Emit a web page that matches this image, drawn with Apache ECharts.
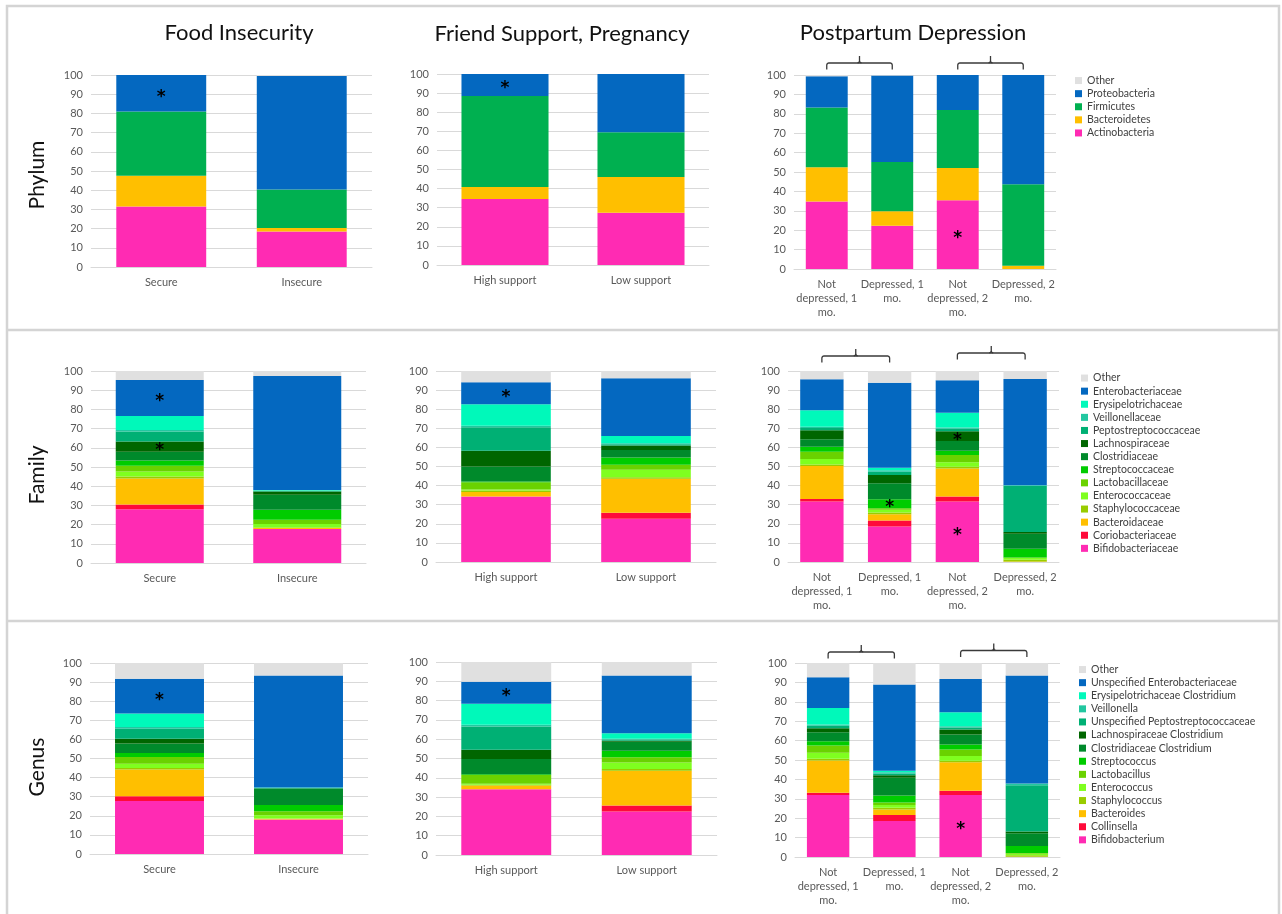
<!DOCTYPE html>
<html>
<head>
<meta charset="utf-8">
<script src="https://cdn.jsdelivr.net/npm/echarts@6/dist/echarts.min.js"></script>
<style>
  html, body { margin: 0; padding: 0; background: #fff; }
  #chart { width: 1282px; height: 914px; }
</style>
</head>
<body>
<div id="chart"></div>
<script>
// ---- Taxa (bottom of stack first, "Other" on top) ----
const phylumNames = ['Actinobacteria', 'Bacteroidetes', 'Firmicutes', 'Proteobacteria', 'Other'];
const familyNames = ['Bifidobacteriaceae', 'Coriobacteriaceae', 'Bacteroidaceae', 'Staphylococcaceae',
  'Enterococcaceae', 'Lactobacillaceae', 'Streptococcaceae', 'Clostridiaceae', 'Lachnospiraceae',
  'Peptostreptococcaceae', 'Veillonellaceae', 'Erysipelotrichaceae', 'Enterobacteriaceae', 'Other'];
const genusNames = ['Bifidobacterium', 'Collinsella', 'Bacteroides', 'Staphylococcus', 'Enterococcus',
  'Lactobacillus', 'Streptococcus', 'Clostridiaceae Clostridium', 'Lachnospiraceae Clostridium',
  'Unspecified Peptostreptococcaceae', 'Veillonella', 'Erysipelotrichaceae Clostridium',
  'Unspecified Enterobacteriaceae', 'Other'];

// ---- Groups (category tick labels) ----
const foodGroups = ['Secure', 'Insecure'];
const supportGroups = ['High support', 'Low support'];
const ppdGroups = ['Not\ndepressed, 1\nmo.', 'Depressed, 1\nmo.', 'Not\ndepressed, 2\nmo.', 'Depressed, 2\nmo.'];

// ---- Relative abundance (%), one row per taxon, one column per group ----
const phylumFood = [
  [31.5, 18.5], [16.0, 1.8], [33.5, 20.0], [19.0, 59.2], [0, 0.5]
];
const phylumSupport = [
  [34.6, 27.4], [6.2, 18.7], [47.7, 23.4], [11.5, 30.5], [0, 0]
];
const phylumPpd = [
  [34.8, 22.3, 35.5, 0], [17.7, 7.5, 16.6, 1.7], [30.7, 25.3, 29.9, 42.0],
  [16.1, 44.7, 18.0, 56.3], [0.7, 0.2, 0, 0]
];
const familyFood = [
  [28.0, 17.7], [2.5, 0], [13.5, 0.5], [1.0, 0.3], [2.7, 1.8], [2.9, 2.2], [2.8, 5.2],
  [4.6, 7.8], [5.3, 1.8], [5.2, 0.3], [0.8, 0.2], [7.3, 0.2], [18.7, 59.4], [4.7, 2.6]
];
const familySupport = [
  [34.3, 22.6], [0, 3.2], [2.3, 17.8], [0.9, 0.8], [0.5, 3.9], [3.8, 2.6], [0.4, 3.8],
  [7.8, 4.0], [8.2, 2.3], [12.3, 0.7], [0.8, 0.5], [11.3, 3.8], [11.5, 30.2], [5.9, 3.8]
];
const familyPpd = [
  [31.7, 18.6, 31.7, 0], [1.3, 3.1, 2.6, 0], [17.3, 3.3, 14.7, 0.2], [0.8, 0.9, 0.9, 1.0],
  [2.8, 1.4, 2.3, 0.9], [3.8, 0.9, 3.8, 0.3], [2.6, 4.7, 2.3, 4.6], [4.0, 8.3, 5.0, 7.8],
  [4.7, 4.4, 5.2, 0.9], [1.2, 1.7, 1.2, 24.1], [0.6, 0.8, 0.7, 0.3], [8.7, 1.3, 7.7, 0.1],
  [16.2, 44.5, 17.0, 55.6], [4.3, 6.1, 4.9, 4.2]
];
const genusFood = [
  [27.7, 18.0], [2.5, 0], [14.0, 0.4], [0.8, 0.2], [2.3, 1.7], [3.5, 2.1], [2.1, 3.2],
  [4.9, 8.4], [2.6, 0.3], [5.2, 0.2], [0.9, 0.1], [7.0, 0.2], [18.3, 58.7], [8.2, 6.5]
];
const genusSupport = [
  [34.1, 22.5], [0, 3.1], [1.9, 18.0], [0.4, 0.9], [0.5, 3.4], [4.6, 2.8], [0.4, 3.3],
  [7.9, 4.7], [4.7, 0.5], [12.1, 0.6], [0.9, 0.4], [10.9, 2.9], [11.4, 29.9], [10.2, 7.0]
];
const genusPpd = [
  [31.9, 18.5, 31.9, 0], [1.2, 3.1, 2.2, 0], [16.6, 2.9, 14.8, 0.1], [0.9, 0.9, 0.7, 0.8],
  [3.1, 1.4, 2.4, 0.8], [3.8, 1.3, 3.4, 0.3], [2.2, 3.6, 2.6, 3.7], [4.6, 9.1, 5.1, 6.5],
  [2.1, 1.4, 2.6, 1.0], [1.2, 0.7, 1.0, 23.8], [0.7, 0.8, 0.7, 0.9], [8.5, 0.7, 7.2, 0],
  [15.8, 44.5, 17.2, 55.6], [7.4, 11.1, 8.2, 6.5]
];

// ---- Significant differences: [taxon index, group index] ----
const phylumFoodStars = [[3, 0]];
const phylumSupportStars = [[3, 0]];
const phylumPpdStars = [[0, 2]];
const familyFoodStars = [[12, 0], [8, 0]];
const familySupportStars = [[12, 0]];
const familyPpdStars = [[6, 1], [8, 2], [0, 2]];
const genusFoodStars = [[12, 0]];
const genusSupportStars = [[12, 0]];
const genusPpdStars = [[0, 2]];

// ---- Colours ----
const PINK = '#FF2BB3', RED = '#FF0A3A', ORANGE = '#FFBF00', BLUE = '#0468C0', GREY = '#E0E0E0';
const phylumColors = [PINK, ORANGE, '#00B050', BLUE, GREY];
const taxaColors = [PINK, RED, ORANGE, '#99CC00', '#7FFF1F', '#6AD200', '#00CC00', '#008A2B',
  '#006600', '#00B074', '#22C7A0', '#00F9BA', BLUE, GREY];

const FONT = 'Lato';
const AXIS_GREY = '#D9D9D9';
const LABEL_GREY = '#595959';

// ---- Panels: [names, colours, groups, values, stars, grid box] ----
const panels = [
  [phylumNames, phylumColors, foodGroups, phylumFood, phylumFoodStars, [91, 75, 281, 192]],
  [phylumNames, phylumColors, supportGroups, phylumSupport, phylumSupportStars, [437, 74, 272, 191]],
  [phylumNames, phylumColors, ppdGroups, phylumPpd, phylumPpdStars, [794, 75, 262, 194]],
  [familyNames, taxaColors, foodGroups, familyFood, familyFoodStars, [91, 371, 275, 192]],
  [familyNames, taxaColors, supportGroups, familySupport, familySupportStars, [436, 371, 280, 191]],
  [familyNames, taxaColors, ppdGroups, familyPpd, familyPpdStars, [788, 371, 271, 191]],
  [genusNames, taxaColors, foodGroups, genusFood, genusFoodStars, [90, 663, 278, 191]],
  [genusNames, taxaColors, supportGroups, genusSupport, genusSupportStars, [436, 662, 281, 193]],
  [genusNames, taxaColors, ppdGroups, genusPpd, genusPpdStars, [795, 663, 265, 194]]
];

const grids = [], xAxes = [], yAxes = [], series = [];
panels.forEach(([names, colors, groups, values, stars, box], p) => {
  grids.push({ left: box[0], top: box[1], width: box[2], height: box[3] });
  xAxes.push({
    type: 'category', gridIndex: p, data: groups,
    axisLine: { lineStyle: { color: AXIS_GREY, width: 1 } },
    axisTick: { show: false },
    axisLabel: { fontFamily: FONT, fontSize: 11, color: LABEL_GREY, lineHeight: 14, margin: 8, interval: 0 }
  });
  yAxes.push({
    type: 'value', gridIndex: p, min: 0, max: 100, interval: 10,
    axisLine: { show: false }, axisTick: { show: false },
    splitLine: { lineStyle: { color: AXIS_GREY, width: 1 } },
    axisLabel: { fontFamily: FONT, fontSize: 11, color: LABEL_GREY, margin: 8 }
  });
  names.forEach((name, t) => {
    series.push({
      type: 'bar', name, stack: 'panel' + p, xAxisIndex: p, yAxisIndex: p,
      barCategoryGap: '36%',
      itemStyle: { color: colors[t] },
      emphasis: { disabled: true },
      animation: false,
      data: values[t].map((v, g) => {
        const starred = stars.some(s => s[0] === t && s[1] === g);
        if (!starred) return v;
        return {
          value: v,
          label: {
            show: true, position: 'inside', formatter: '*',
            fontFamily: 'DejaVu Sans', fontSize: 17, fontWeight: 'bold', color: '#000',
            offset: [0, 4]
          }
        };
      })
    });
  });
});

// ---- Legends, one per row, "Other" listed first ----
function rowLegend(names, left, top) {
  return {
    orient: 'vertical', left, top, padding: 0, icon: 'rect', itemWidth: 7, itemHeight: 7, itemGap: 0,
    selectedMode: false,
    data: names.slice().reverse(),
    textStyle: { fontFamily: FONT, fontSize: 10.5, color: '#404040', lineHeight: 13.1 }
  };
}

// ---- Frame, column titles and row titles ----
function textEl(text, x, y, size, rotation) {
  return {
    type: 'text', x, y, rotation: rotation || 0,
    style: {
      text, fontFamily: FONT, fontSize: size, fill: '#111',
      align: 'center', verticalAlign: 'middle', textAlign: 'center', textVerticalAlign: 'middle'
    }
  };
}
const frame = [
  { type: 'rect', shape: { x: 7, y: 6, width: 1272, height: 940 },
    style: { fill: null, stroke: '#D4D4D4', lineWidth: 2.5 } },
  { type: 'line', shape: { x1: 7, y1: 330, x2: 1279, y2: 330 }, style: { stroke: '#D4D4D4', lineWidth: 2.5 } },
  { type: 'line', shape: { x1: 7, y1: 621, x2: 1279, y2: 621 }, style: { stroke: '#D4D4D4', lineWidth: 2.5 } },
  textEl('Food Insecurity', 239, 33, 22),
  textEl('Friend Support, Pregnancy', 562, 34, 22),
  textEl('Postpartum Depression', 913, 33, 22),
  textEl('Phylum', 37, 175, 21, Math.PI / 2),
  textEl('Family', 37, 475, 21, Math.PI / 2),
  textEl('Genus', 37, 767, 21, Math.PI / 2)
];

const chart = echarts.init(document.getElementById('chart'), null, { renderer: 'canvas' });
chart.setOption({
  backgroundColor: '#fff',
  animation: false,
  grid: grids, xAxis: xAxes, yAxis: yAxes, series,
  legend: [
    rowLegend(phylumNames, 1075, 74),
    rowLegend(familyNames, 1081, 371.5),
    rowLegend(genusNames, 1079, 663)
  ],
  graphic: frame
});

// ---- Comparison braces over each 1-month and 2-month pair ----
// rise above the 100 gridline for each brace, per postpartum panel
const braceRise = { 2: [12, 12], 5: [15, 18], 8: [11, 12.5] };
const braces = [];
const braceStyle = { fill: null, stroke: '#3A3A3A', lineWidth: 1.3 };
Object.keys(braceRise).forEach(key => {
  const p = Number(key);
  [[0, 1], [2, 3]].forEach((pair, k) => {
    const a = chart.convertToPixel({ xAxisIndex: p, yAxisIndex: p }, [pair[0], 100]);
    const b = chart.convertToPixel({ xAxisIndex: p, yAxisIndex: p }, [pair[1], 100]);
    const yH = a[1] - braceRise[p][k];
    const yEnd = yH + 6.5, yTick = yH - 7, r = 2;
    const x1 = a[0], x2 = b[0], xm = (x1 + x2) / 2;
    braces.push({
      type: 'polyline',
      shape: { points: [[x1, yEnd], [x1, yH + r], [x1 + 0.6, yH + 0.6], [x1 + r, yH],
        [x2 - r, yH], [x2 - 0.6, yH + 0.6], [x2, yH + r], [x2, yEnd]] },
      style: braceStyle
    });
    braces.push({
      type: 'polyline',
      shape: { points: [[xm - r, yH], [xm - 0.6, yH - 0.6], [xm, yH - r], [xm, yTick]] },
      style: braceStyle
    });
    braces.push({
      type: 'polyline',
      shape: { points: [[xm + r, yH], [xm + 0.6, yH - 0.6], [xm, yH - r]] },
      style: braceStyle
    });
  });
});
chart.setOption({ graphic: frame.concat(braces) });
</script>
</body>
</html>
